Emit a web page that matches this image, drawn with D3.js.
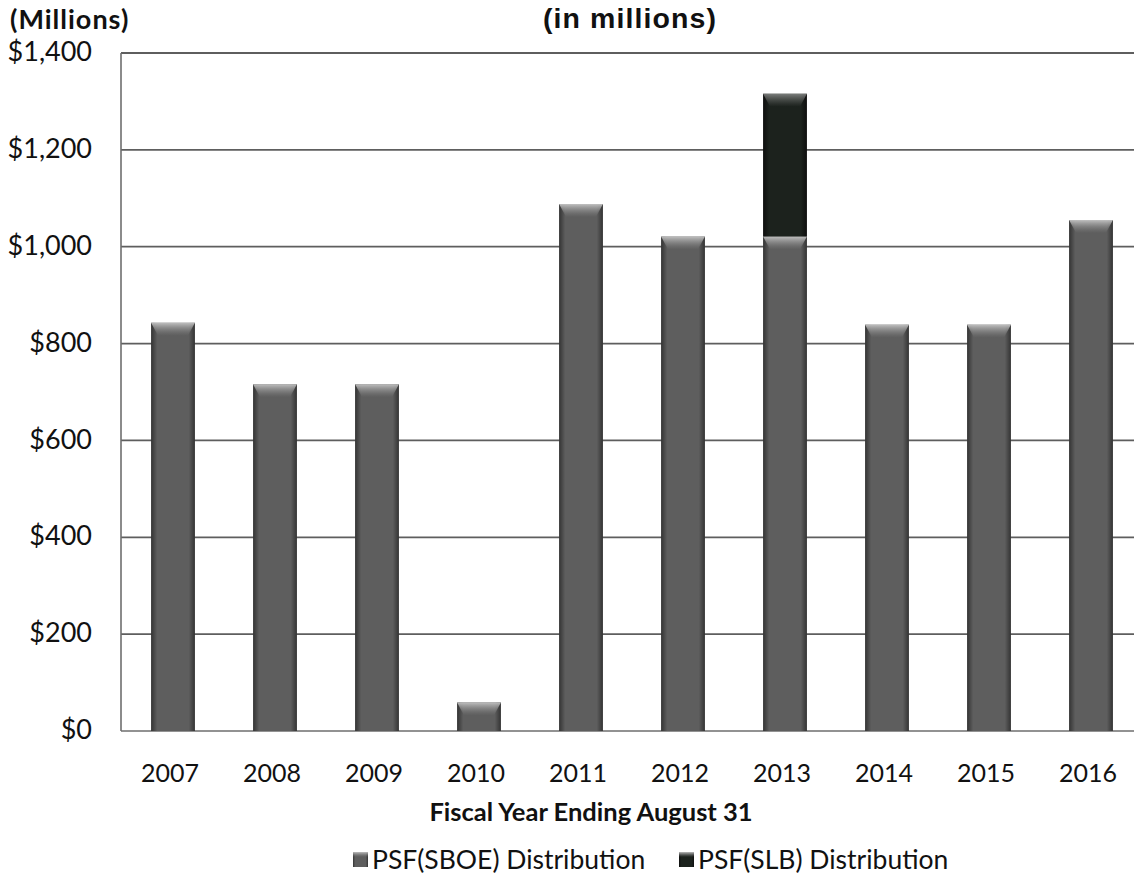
<!DOCTYPE html>
<html><head><meta charset="utf-8">
<script src="https://cdn.jsdelivr.net/npm/d3@7"></script>
<style>body{margin:0;background:#fff}svg{display:block}</style>
</head><body>
<svg id="c" width="1134" height="880"></svg>
<script>
const years = ["2007","2008","2009","2010","2011","2012","2013","2014","2015","2016"];
const sboe = [843, 716, 716, 59, 1088, 1021, 1021, 839, 839, 1055];
const slb  = [0, 0, 0, 0, 0, 0, 295, 0, 0, 0];
const yTicks = [0, 200, 400, 600, 800, 1000, 1200, 1400];
const seriesNames = ["PSF(SBOE) Distribution", "PSF(SLB) Distribution"];

const svg = d3.select("#c");
const M = {l:121, t:53, r:1142, b:731};
const x = d3.scaleBand().domain(years).range([M.l+1, M.r]).paddingInner(0.57).paddingOuter(0.285);
const y = d3.scaleLinear().domain([0,1400]).range([M.b, M.t]);

const defs = svg.append("defs");
function hgrad(id, edge, mid){
  const g = defs.append("linearGradient").attr("id", id).attr("x1","0").attr("x2","1").attr("y1","0").attr("y2","0");
  g.append("stop").attr("offset","0").attr("stop-color", edge);
  g.append("stop").attr("offset","0.14").attr("stop-color", mid);
  g.append("stop").attr("offset","0.86").attr("stop-color", mid);
  g.append("stop").attr("offset","1").attr("stop-color", edge);
}
hgrad("gS", "#333", "#5e5e5e");
hgrad("gL", "#0e0e0e", "#1c221d");
const hl = defs.append("linearGradient").attr("id","hl").attr("x1","0").attr("x2","0").attr("y1","0").attr("y2","1");
hl.append("stop").attr("offset","0").attr("stop-color","#c4c4c4").attr("stop-opacity",0.95);
hl.append("stop").attr("offset","1").attr("stop-color","#888").attr("stop-opacity",0);

// gridlines
svg.append("g").selectAll("line").data(yTicks.filter(d=>d>0)).join("line")
  .attr("x1", M.l).attr("x2", 1134).attr("y1", d=>y(d)).attr("y2", d=>y(d))
  .attr("stroke", "#5e5e5e").attr("stroke-width", 1.8);

// axis lines
svg.append("line").attr("x1", M.l).attr("x2", M.l).attr("y1", M.t).attr("y2", M.b).attr("stroke","#6e6e6e").attr("stroke-width",1.6);
svg.append("line").attr("x1", M.l).attr("x2", 1134).attr("y1", M.b).attr("y2", M.b).attr("stroke","#6e6e6e").attr("stroke-width",1.6);

// bars
const bw = x.bandwidth();
const gb = svg.append("g");
function bevel(g, x0, y0, h, op){
  const b = Math.min(13, h/2);
  g.append("path")
    .attr("d", `M${x0},${y0} L${x0+bw},${y0} L${x0+bw-7},${y0+b} L${x0+7},${y0+b} Z`)
    .attr("fill", "url(#hl)").attr("opacity", op);
}
years.forEach((yr,i)=>{
  const x0 = x(yr);
  gb.append("rect").attr("x", x0).attr("width", bw).attr("y", y(sboe[i])).attr("height", y(0)-y(sboe[i])).attr("fill","url(#gS)");
  bevel(gb, x0, y(sboe[i]), y(0)-y(sboe[i]), 1);
  if (slb[i] > 0){
    const top = sboe[i]+slb[i];
    gb.append("rect").attr("x", x0).attr("width", bw).attr("y", y(top)).attr("height", y(sboe[i])-y(top)).attr("fill","url(#gL)");
    bevel(gb, x0, y(top), y(sboe[i])-y(top), 0.6);
  }
});

const tickFont = "Lato, 'Open Sans', sans-serif";
// y tick labels
svg.append("g").selectAll("text").data(yTicks).join("text")
  .attr("x", 92).attr("y", d=>y(d)).attr("dy","0.3em").attr("text-anchor","end")
  .attr("font-family", tickFont).attr("font-size", 27).attr("fill","#111")
  .text(d=>"$"+d3.format(",")(d));

// x tick labels
svg.append("g").selectAll("text").data(years).join("text")
  .attr("x", d=>x(d)+bw/2-3).attr("y", 782).attr("text-anchor","middle")
  .attr("font-family", tickFont).attr("font-size", 25).attr("fill","#111")
  .text(d=>d);

// titles
svg.append("text").attr("x", 10).attr("y", 29).attr("font-family", tickFont).attr("font-weight","bold").attr("font-size", 27).attr("letter-spacing", 1).attr("fill","#111").text("(Millions)");
svg.append("text").attr("x", 630).attr("y", 28).attr("text-anchor","middle").attr("font-family","'Liberation Sans', Arial, sans-serif").attr("font-weight","bold").attr("font-size", 28.5).attr("letter-spacing", 1.1).attr("fill","#111").text("(in millions)");
svg.append("text").attr("x", 591).attr("y", 821).attr("text-anchor","middle").attr("font-family", tickFont).attr("font-weight","bold").attr("font-size", 25.5).attr("fill","#111").text("Fiscal Year Ending August 31");

// legend
const lg = svg.append("g");
const legX = [353, 679];
const legFill = ["url(#gS)", "url(#gL)"];
seriesNames.forEach((n,i)=>{
  lg.append("rect").attr("x", legX[i]).attr("y", 852).attr("width", 15).attr("height", 15).attr("fill", legFill[i]);
  lg.append("rect").attr("x", legX[i]).attr("y", 852).attr("width", 15).attr("height", 5).attr("fill", "url(#hl)");
  lg.append("text").attr("x", legX[i]+19).attr("y", 869).attr("font-family", tickFont).attr("font-size", 26.5).attr("fill","#111").text(n);
});
</script>
</body></html>
